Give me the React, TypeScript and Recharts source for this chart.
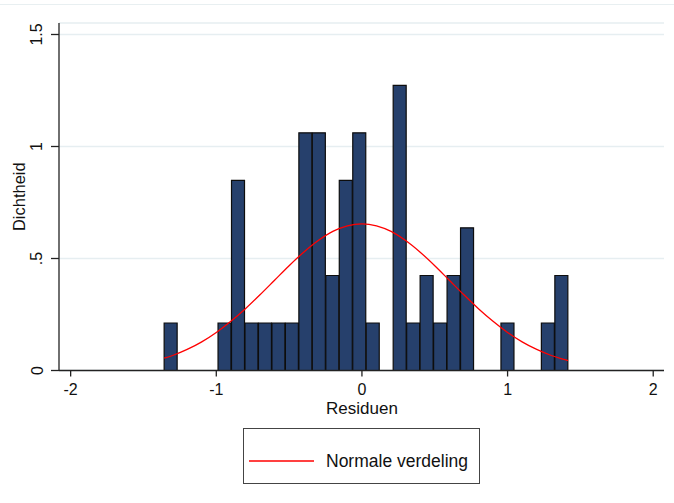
import React from 'react';
import { ComposedChart, Bar, Line, XAxis, YAxis, CartesianGrid } from 'recharts';

// Histogram bins (centres) and their densities
const binCenters = [
  -1.3118, -1.2193, -1.1268, -1.0343, -0.9418, -0.8493, -0.7568, -0.6643, -0.5718, -0.4793,
  -0.3868, -0.2943, -0.2018, -0.1093, -0.0168, 0.0758, 0.1683, 0.2608, 0.3533, 0.4458,
  0.5383, 0.6308, 0.7233, 0.8158, 0.9083, 1.0008, 1.0933, 1.1858, 1.2783, 1.3708,
];
const binDensity = [
  0.212, 0, 0, 0, 0.212, 0.849, 0.212, 0.212, 0.212, 0.212,
  1.061, 1.061, 0.424, 0.849, 1.061, 0.212, 0, 1.273, 0.212, 0.424,
  0.212, 0.424, 0.637, 0, 0, 0.212, 0, 0, 0.212, 0.424,
];

// Normal curve points
const curveX = [
  -1.358, -1.3, -1.2, -1.1, -1.0, -0.9, -0.8, -0.7, -0.6, -0.5, -0.4, -0.3, -0.2, -0.1, 0,
  0.1, 0.2, 0.3, 0.4, 0.5, 0.6, 0.7, 0.8, 0.9, 1.0, 1.1, 1.2, 1.3, 1.4, 1.415,
];
const curveY = [
  0.055, 0.067, 0.094, 0.128, 0.170, 0.220, 0.276, 0.338, 0.403, 0.468, 0.528, 0.580, 0.621, 0.646, 0.655,
  0.646, 0.621, 0.580, 0.528, 0.468, 0.403, 0.338, 0.276, 0.220, 0.170, 0.128, 0.094, 0.067, 0.047, 0.044,
];

const xTicks = [-2, -1, 0, 1, 2];
const yTicks = [0, 0.5, 1, 1.5];
const yTickLabels = ['0', '.5', '1', '1.5'];

const xTitle = 'Residuen';
const yTitle = 'Dichtheid';
const legendLabel = 'Normale verdeling';

const barData = binCenters.map((x, i) => ({ x, density: binDensity[i] }));
const curveData = curveX.map((x, i) => ({ x, normal: curveY[i] }));

const FONT = '"Liberation Sans", Arial, sans-serif';
const X_DOMAIN: [number, number] = [-2.08, 2.074];

const YTick = (props: any) => {
  const { y, payload } = props;
  const idx = yTicks.indexOf(payload.value);
  const label = idx >= 0 ? yTickLabels[idx] : String(payload.value);
  const cx = 37;
  return (
    <text
      x={cx}
      y={y}
      transform={`rotate(-90 ${cx} ${y})`}
      textAnchor="middle"
      dominantBaseline="central"
      fontSize={16}
      fontFamily={FONT}
      fill="#111"
    >
      {label}
    </text>
  );
};

export default function App() {
  return (
    <div style={{ position: 'absolute', left: 0, top: 0, width: 674, height: 503, background: '#fff' }}>
      <div style={{ position: 'absolute', left: 0, top: 4, width: 674, height: 0, borderTop: '1.5px solid #e8eff1' }} />
      <ComposedChart
        width={674}
        height={503}
        data={barData}
        margin={{ top: 23, right: 10, bottom: 0, left: 0 }}
        barCategoryGap={0}
        barGap={0}
      >
        <CartesianGrid xAxisId="bins" horizontal vertical={false} stroke="#e6eef1" strokeWidth={1.5} />
        <XAxis
          xAxisId="bins"
          dataKey="x"
          type="number"
          domain={X_DOMAIN}
          ticks={xTicks}
          height={132.5}
          tickSize={6}
          tickMargin={7}
          axisLine={{ stroke: '#222', strokeWidth: 1.3 }}
          tickLine={{ stroke: '#222', strokeWidth: 1.3 }}
          tick={{ fontSize: 16, fontFamily: FONT, fill: '#111' }}
          label={{
            content: () => (
              <text x={362} y={414} textAnchor="middle" fontSize={17} fontFamily={FONT} fill="#111">
                {xTitle}
              </text>
            ),
          }}
        />
        <XAxis xAxisId="curve" dataKey="x" type="number" domain={X_DOMAIN} hide />
        <YAxis
          type="number"
          domain={[0, 1.5513]}
          ticks={yTicks}
          width={59}
          tickSize={8}
          axisLine={{ stroke: '#222', strokeWidth: 1.3 }}
          tickLine={{ stroke: '#222', strokeWidth: 1.3 }}
          tick={<YTick />}
          label={{
            content: () => (
              <text
                x={19}
                y={196.7}
                transform="rotate(-90 19 196.7)"
                textAnchor="middle"
                dominantBaseline="central"
                fontSize={16.5}
                fontFamily={FONT}
                fill="#111"
              >
                {yTitle}
              </text>
            ),
          }}
        />
        <Bar
          xAxisId="bins"
          dataKey="density"
          fill="#26406c"
          stroke="#0d0d0d"
          strokeWidth={1.2}
          isAnimationActive={false}
        />
        <Line
          xAxisId="curve"
          data={curveData}
          dataKey="normal"
          type="monotone"
          stroke="#ff0000"
          strokeWidth={1.3}
          dot={false}
          isAnimationActive={false}
        />
      </ComposedChart>
      <div
        style={{
          position: 'absolute',
          left: 243,
          top: 428,
          width: 237,
          height: 56,
          border: '1.5px solid #444',
          boxSizing: 'border-box',
          background: '#fff',
        }}
      >
        <svg style={{ position: 'absolute', left: 5, top: 30, overflow: 'visible' }} width={66} height={4}>
          <line x1={0} y1={2} x2={65} y2={2} stroke="#ff0000" strokeWidth={1.5} />
        </svg>
        <span
          style={{
            position: 'absolute',
            left: 82,
            top: 22,
            lineHeight: '20px',
            fontSize: 17.5,
            fontFamily: FONT,
            color: '#111',
            whiteSpace: 'nowrap',
          }}
        >
          {legendLabel}
        </span>
      </div>
    </div>
  );
}
